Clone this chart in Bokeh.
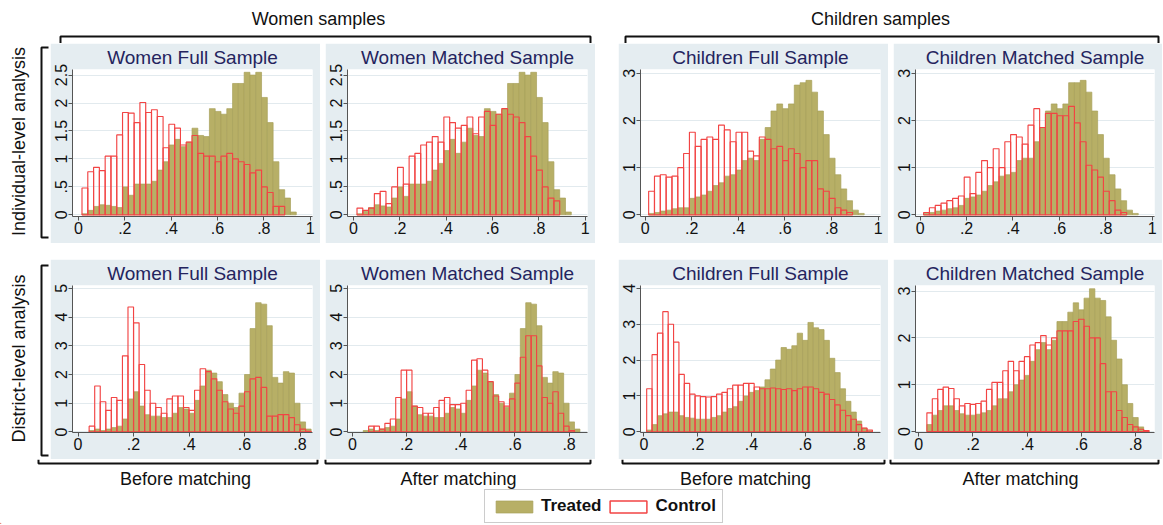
import math
from bokeh.plotting import figure
from bokeh.models import (Range1d, FixedTicker, CustomJSTickFormatter, Spacer,
                          Legend, LegendItem, ColumnDataSource, Label)
from bokeh.layouts import row, column
from bokeh.embed import file_html
from bokeh.resources import INLINE

FONT = "Liberation Sans"

# ---------------- data ----------------
panel_titles = ["Women Full Sample", "Women Matched Sample",
                "Children Full Sample", "Children Matched Sample"]
group_labels = ["Women samples", "Children samples"]
row_labels = ["Individual-level analysis", "District-level analysis"]
column_labels = ["Before matching", "After matching", "Before matching", "After matching"]
legend_labels = ["Treated", "Control"]

# Individual-level analysis: histogram bins of width 0.025 starting at 0.015
ind_bin_start = 0.015
ind_bin_width = 0.025
ind_women_full_treated = [0.02, 0.08, 0.15, 0.18, 0.17, 0.15, 0.13, 0.5, 0.35, 0.55,
                          0.55, 0.55, 0.6, 0.8, 0.95, 1.25, 1.35, 1.22, 1.3, 1.55,
                          1.42, 1.4, 1.9, 1.85, 1.8, 1.9, 2.35, 2.35, 2.55, 2.5,
                          2.55, 2.1, 1.65, 0.95, 0.45, 0.3, 0.05]
ind_women_full_control = [0.48, 0.77, 0.85, 0.79, 1.05, 1.05, 1.43, 1.83, 1.82, 1.65,
                          2.01, 1.83, 1.88, 1.76, 1.2, 1.62, 1.55, 1.25, 1.3, 1.42,
                          1.1, 1.05, 1.05, 0.95, 1.05, 1.1, 1.0, 0.95, 0.9, 0.75,
                          0.8, 0.5, 0.4, 0.15, 0.15]
ind_women_matched_treated = [0.02, 0.06, 0.13, 0.18, 0.16, 0.14, 0.3, 0.5, 0.33, 0.55,
                             0.55, 0.55, 0.6, 0.8, 0.92, 1.15, 1.35, 1.1, 1.3, 1.55,
                             1.42, 1.4, 1.9, 1.85, 1.8, 1.9, 2.35, 2.35, 2.55, 2.5,
                             2.55, 2.1, 1.65, 0.95, 0.45, 0.3, 0.05]
ind_women_matched_control = [0.12, 0.08, 0.12, 0.38, 0.42, 0.2, 0.5, 0.85, 0.55, 1.05,
                             1.1, 1.25, 1.3, 1.4, 1.3, 1.75, 1.65, 1.55, 1.6, 1.75,
                             1.45, 1.75, 1.85, 1.6, 1.8, 1.9, 1.8, 1.75, 1.65, 1.4,
                             1.05, 0.8, 0.5, 0.3, 0.25]
ind_children_full_treated = [0.03, 0.05, 0.08, 0.1, 0.13, 0.15, 0.15, 0.35, 0.38, 0.42,
                             0.5, 0.62, 0.68, 0.82, 0.85, 0.95, 1.15, 1.2, 1.15, 1.6,
                             1.85, 2.2, 2.35, 2.25, 2.35, 2.75, 2.8, 2.85, 2.6, 2.2,
                             1.7, 1.2, 0.85, 0.55, 0.3, 0.1, 0.03]
ind_children_full_control = [0.5, 0.82, 0.85, 0.8, 0.82, 1.0, 1.3, 1.75, 1.45, 1.6,
                             1.65, 1.6, 1.9, 1.8, 1.55, 1.75, 1.75, 1.35, 1.25, 1.65,
                             1.6, 1.4, 1.45, 1.15, 1.4, 1.3, 1.0, 1.15, 1.15, 0.55,
                             0.5, 0.35, 0.15, 0.1, 0.05]
ind_children_matched_treated = [0.03, 0.05, 0.08, 0.1, 0.13, 0.15, 0.2, 0.35, 0.38, 0.42,
                                0.5, 0.62, 0.7, 0.82, 0.85, 0.9, 1.15, 1.2, 1.2, 1.55,
                                1.85, 2.2, 2.35, 2.25, 2.35, 2.8, 2.8, 2.85, 2.6, 2.2,
                                1.7, 1.2, 0.85, 0.55, 0.3, 0.1, 0.03]
ind_children_matched_control = [0.05, 0.15, 0.2, 0.25, 0.3, 0.35, 0.4, 0.8, 0.45, 0.9,
                                1.15, 1.0, 1.4, 1.0, 1.55, 1.7, 1.65, 1.5, 1.9, 2.25,
                                1.85, 2.15, 2.15, 2.1, 2.1, 2.3, 1.95, 1.55, 1.05, 0.95,
                                0.8, 0.5, 0.3, 0.1, 0.05]

# District-level analysis: histogram bins of width 0.02
dist_bin_width = 0.02
dist_women_bin_start = 0.04
dist_children_full_bin_start = 0.01
dist_children_matched_bin_start = 0.03
dist_women_full_treated = [0.05, 0.1, 0.05, 0.1, 0.15, 0.2, 0.45, 1.15, 1.4, 0.9,
                           0.6, 0.55, 0.55, 0.5, 0.5, 0.65, 0.85, 0.8, 0.65, 1.1,
                           1.6, 2.15, 2.05, 1.75, 1.3, 1.0, 0.85, 1.35, 2.0, 3.6,
                           4.5, 4.45, 3.7, 1.9, 1.7, 2.1, 2.05, 1.0, 0.35, 0.1]
dist_women_full_control = [0.2, 1.6, 1.05, 0.75, 1.2, 1.1, 2.65, 4.35, 3.8, 2.35,
                           1.45, 1.0, 0.85, 0.65, 1.15, 1.25, 1.25, 0.85, 0.75, 1.45,
                           2.2, 2.1, 1.85, 1.45, 1.05, 0.8, 0.65, 0.9, 1.4, 1.85,
                           1.9, 1.55, 0.55, 0.55, 0.6, 0.6, 0.5, 0.25, 0.1, 0.02]
dist_women_matched_treated = [0.05, 0.1, 0.05, 0.1, 0.15, 0.2, 0.45, 1.15, 1.4, 0.9,
                              0.6, 0.55, 0.55, 0.5, 0.5, 0.65, 0.85, 0.8, 0.65, 1.1,
                              1.6, 2.15, 2.05, 1.75, 1.3, 1.0, 0.85, 1.35, 2.0, 3.6,
                              4.5, 4.45, 3.7, 1.9, 1.7, 2.1, 2.05, 1.0, 0.35, 0.1]
dist_women_matched_control = [0.0, 0.2, 0.2, 0.1, 0.3, 0.45, 1.2, 2.15, 2.15, 0.9,
                              0.85, 0.65, 0.65, 0.85, 1.1, 1.2, 0.95, 0.95, 1.0, 1.45,
                              2.5, 2.55, 2.15, 1.75, 1.25, 1.05, 0.9, 1.15, 1.7, 2.6,
                              3.35, 3.35, 2.3, 1.2, 1.0, 1.4, 0.65, 0.2, 0.05, 0.0]
dist_children_full_treated = [0.05, 0.2, 0.45, 0.5, 0.55, 0.55, 0.45, 0.4, 0.38, 0.35,
                              0.35, 0.35, 0.4, 0.45, 0.55, 0.65, 0.7, 0.85, 1.0, 1.1,
                              1.15, 1.25, 1.45, 1.75, 2.0, 2.35, 2.3, 2.4, 2.75, 2.55,
                              3.05, 2.9, 2.85, 2.55, 2.05, 1.65, 1.2, 0.85, 0.55, 0.3,
                              0.1, 0.03]
dist_children_full_control = [1.2, 2.15, 2.75, 3.35, 3.0, 2.5, 1.6, 1.35, 1.05, 1.0,
                              0.98, 0.97, 0.98, 1.05, 1.1, 1.2, 1.3, 1.3, 1.35, 1.35,
                              1.25, 1.2, 1.2, 1.22, 1.2, 1.18, 1.2, 1.15, 1.2, 1.25,
                              1.25, 1.2, 1.1, 1.05, 0.9, 0.75, 0.6, 0.45, 0.35, 0.2,
                              0.1, 0.05]
dist_children_matched_treated = [0.15, 0.35, 0.45, 0.55, 0.55, 0.45, 0.38, 0.35, 0.35, 0.37,
                                 0.4, 0.45, 0.55, 0.7, 0.7, 0.85, 1.0, 1.1, 1.2, 1.5,
                                 1.75, 1.9, 1.75, 1.95, 2.35, 2.35, 2.55, 2.75, 2.6, 2.85,
                                 3.05, 2.85, 2.8, 2.45, 1.95, 1.55, 1.0, 0.6, 0.3, 0.1,
                                 0.02]
dist_children_matched_control = [0.4, 0.7, 0.9, 0.95, 0.92, 0.7, 0.55, 0.6, 0.58, 0.6,
                                 0.65, 0.9, 1.05, 1.05, 1.3, 1.5, 1.3, 1.5, 1.6, 1.85,
                                 1.9, 2.05, 1.85, 2.0, 2.15, 2.15, 2.15, 2.35, 2.4, 2.25,
                                 2.0, 2.0, 1.45, 0.85, 0.85, 0.45, 0.3, 0.15, 0.1, 0.05,
                                 0.02]

x_ticks_ind = [0, 0.2, 0.4, 0.6, 0.8, 1]
x_ticks_dist = [0, 0.2, 0.4, 0.6, 0.8]
y_ticks_women_ind = [0, 0.5, 1, 1.5, 2, 2.5]
y_ticks_children_ind = [0, 1, 2, 3]
y_ticks_women_dist = [0, 1, 2, 3, 4, 5]
y_ticks_children_full_dist = [0, 1, 2, 3, 4]
y_ticks_children_matched_dist = [0, 1, 2, 3]

# ---------------- style ----------------
OLIVE = "#B7AF66"
OLIVE_LINE = "#A8A05A"
RED = "#F24444"
BG = "#E5EDF1"
TITLE_COLOR = "#24245E"
PW, PH = 270, 200

fmt = CustomJSTickFormatter(code="""
    if (tick == 0) { return "0"; }
    var s = String(Math.round(tick * 100) / 100);
    return s.replace(/^0\\./, ".");
""")


def bars_source(start, width, vals):
    xs, tops = [], []
    for i, v in enumerate(vals):
        if v > 0:
            xs.append(start + width * (i + 0.5))
            tops.append(v)
    return ColumnDataSource(dict(x=xs, top=tops))


def panel(title, start, width, treated, control, xr, yr, xticks, yticks, pw=PW):
    p = figure(width=pw, height=PH, title=title,
               x_range=Range1d(*xr), y_range=Range1d(*yr),
               output_backend="svg", toolbar_location=None,
               min_border_left=22, min_border_right=8,
               min_border_top=0, min_border_bottom=27)
    p.border_fill_color = BG
    p.background_fill_color = "white"
    p.outline_line_color = None
    p.title.align = "center"
    p.title.text_font = FONT
    p.title.text_font_size = "19px"
    p.title.text_font_style = "normal"
    p.title.text_color = TITLE_COLOR
    p.title.standoff = 3
    p.xgrid.visible = False
    p.ygrid.grid_line_color = "#E2EAEE"
    p.ygrid.ticker = FixedTicker(ticks=yticks)
    p.xaxis.ticker = FixedTicker(ticks=xticks)
    p.yaxis.ticker = FixedTicker(ticks=yticks)
    for ax in (p.xaxis[0], p.yaxis[0]):
        ax.formatter = fmt
        ax.axis_line_color = "#555555"
        ax.major_tick_line_color = "#555555"
        ax.major_tick_out = 4
        ax.major_tick_in = 0
        ax.minor_tick_line_color = None
        ax.major_label_text_font = FONT
        ax.major_label_text_font_size = "16px"
        ax.major_label_text_color = "#111111"
        ax.major_label_standoff = 1
    p.yaxis.major_label_orientation = "vertical"
    p.vbar(x="x", top="top", width=width, bottom=0,
           source=bars_source(start, width, treated),
           fill_color=OLIVE, line_color=OLIVE_LINE, line_width=0.7)
    p.vbar(x="x", top="top", width=width, bottom=0,
           source=bars_source(start, width, control),
           fill_color=None, line_color=RED, line_width=1.15)
    return p


p1 = panel(panel_titles[0], ind_bin_start, ind_bin_width, ind_women_full_treated,
           ind_women_full_control, (-0.026, 1.01), (-0.03, 2.6), x_ticks_ind, y_ticks_women_ind)
p2 = panel(panel_titles[1], ind_bin_start, ind_bin_width, ind_women_matched_treated,
           ind_women_matched_control, (-0.026, 1.01), (-0.03, 2.6), x_ticks_ind, y_ticks_women_ind)
p3 = panel(panel_titles[2], ind_bin_start, ind_bin_width, ind_children_full_treated,
           ind_children_full_control, (-0.02, 1.01), (-0.035, 3.08), x_ticks_ind, y_ticks_children_ind)
p4 = panel(panel_titles[3], ind_bin_start, ind_bin_width, ind_children_matched_treated,
           ind_children_matched_control, (-0.02, 1.01), (-0.035, 3.08), x_ticks_ind, y_ticks_children_ind,
           pw=PW - 1)
p5 = panel(panel_titles[0], dist_women_bin_start, dist_bin_width, dist_women_full_treated,
           dist_women_full_control, (-0.02, 0.845), (-0.02, 5.1), x_ticks_dist, y_ticks_women_dist)
p6 = panel(panel_titles[1], dist_women_bin_start, dist_bin_width, dist_women_matched_treated,
           dist_women_matched_control, (-0.018, 0.868), (-0.02, 5.1), x_ticks_dist, y_ticks_women_dist)
p7 = panel(panel_titles[2], dist_children_full_bin_start, dist_bin_width, dist_children_full_treated,
           dist_children_full_control, (-0.013, 0.88), (-0.02, 4.08), x_ticks_dist, y_ticks_children_full_dist)
p8 = panel(panel_titles[3], dist_children_matched_bin_start, dist_bin_width, dist_children_matched_treated,
           dist_children_matched_control, (-0.012, 0.87), (-0.02, 3.12), x_ticks_dist, y_ticks_children_matched_dist,
           pw=PW - 1)


def blank(w, h):
    f = figure(width=w, height=h, x_range=Range1d(0, w), y_range=Range1d(0, h),
               output_backend="svg", toolbar_location=None,
               x_axis_type=None, y_axis_type=None,
               min_border=0, min_border_left=0, min_border_right=0,
               min_border_top=0, min_border_bottom=0)
    f.outline_line_color = None
    f.grid.visible = False
    f.background_fill_color = "white"
    f.border_fill_color = "white"
    return f


TOTAL_W = 1162
HEAD_H = 43
GAP_H = 16
MID_H = PH * 2 + GAP_H
FOOT_H = 65
LEFT_W = 50

# header: group labels with brackets
head = blank(TOTAL_W, HEAD_H)
for txt, cx in zip(group_labels, [318, 880]):
    head.add_layout(Label(x=cx, y=25, text=txt, text_align="center", text_baseline="middle",
                          text_font=FONT, text_font_size="18px", text_color="#111111"))
head.multi_line(xs=[[60, 60, 590, 590], [625, 625, 1158, 1158]],
                ys=[[0, 7, 7, 0], [0, 7, 7, 0]], line_color="#111111", line_width=2)

# left: row labels with brackets
left = blank(LEFT_W, MID_H)
for txt, cy in zip(row_labels, [318, 101]):
    left.add_layout(Label(x=18, y=cy, text=txt, angle=math.pi / 2, text_align="center",
                          text_baseline="middle", text_font=FONT, text_font_size="18px",
                          text_color="#111111"))
left.multi_line(xs=[[48, 41, 41, 48], [48, 41, 41, 48]],
                ys=[[412, 412, 222, 222], [194, 194, 4, 4]], line_color="#111111", line_width=2)

# footer: column labels with brackets and legend
foot = blank(TOTAL_W, FOOT_H)
foot.multi_line(xs=[[38, 38, 317, 317], [325, 325, 590, 590], [622, 622, 884, 884], [890, 890, 1158, 1158]],
                ys=[[65, 61, 61, 65]] * 4, line_color="#111111", line_width=2)
for txt, cx in zip(column_labels, [185, 458, 745, 1020]):
    foot.add_layout(Label(x=cx, y=46, text=txt, text_align="center", text_baseline="middle",
                          text_font=FONT, text_font_size="18px", text_color="#111111"))
# legend proxies (kept outside the visible footer range)
r_t = foot.vbar(x=[-100], top=[1], width=1, fill_color=OLIVE, line_color=OLIVE_LINE, line_width=0.7)
r_c = foot.vbar(x=[-100], top=[1], width=1, fill_color=None, line_color=RED, line_width=1.5)
leg = Legend(items=[LegendItem(label=legend_labels[0], renderers=[r_t]),
                    LegendItem(label=legend_labels[1], renderers=[r_c])],
             orientation="horizontal", location=(484, 1),
             label_text_font=FONT, label_text_font_style="bold", label_text_font_size="17px",
             label_text_color="#111111",
             glyph_width=46, glyph_height=15, padding=6, spacing=4, label_standoff=4,
             border_line_color="#999999", border_line_width=1, background_fill_color="white",
             margin=0)
foot.add_layout(leg)

grid = column(
    row(p1, Spacer(width=5, height=PH), p2, Spacer(width=23, height=PH), p3,
        Spacer(width=5, height=PH), p4),
    Spacer(width=10, height=GAP_H),
    row(p5, Spacer(width=5, height=PH), p6, Spacer(width=23, height=PH), p7,
        Spacer(width=5, height=PH), p8),
)
layout = column(head, row(left, grid), foot)

open("out.html", "w").write(file_html(layout, INLINE))
